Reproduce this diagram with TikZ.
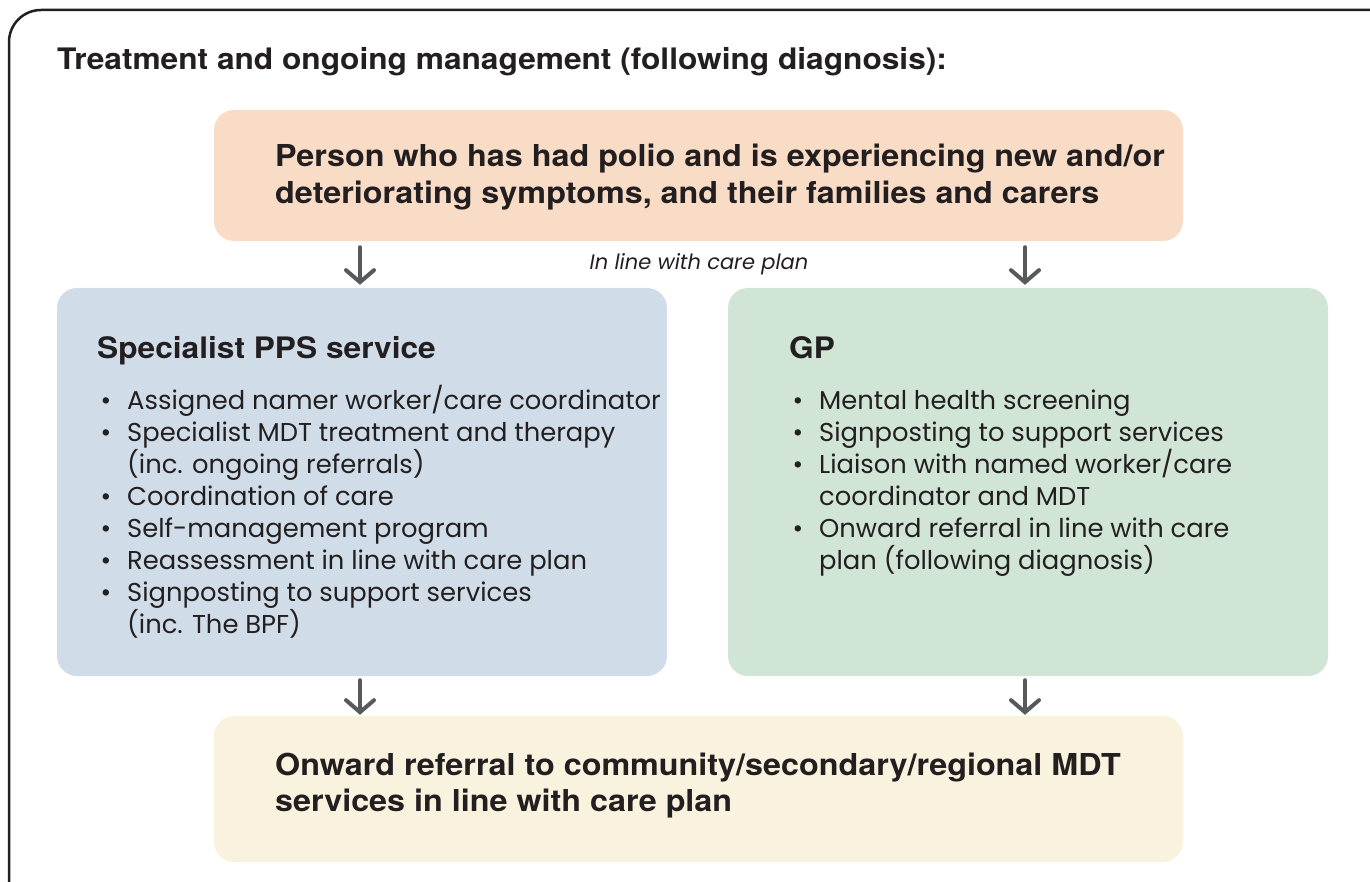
\documentclass[tikz,border=0pt]{standalone}
\usepackage{fontspec}
\setmainfont{Poppins}
\newfontfamily\headfont[FakeStretch=1.07]{TeX Gyre Heros}
\usetikzlibrary{arrows.meta}

\definecolor{ink}{RGB}{35,31,32}
\definecolor{arrgrey}{RGB}{88,89,91}
\definecolor{peach}{RGB}{248,220,198}
\definecolor{pplblue}{RGB}{208,221,233}
\definecolor{gpgreen}{RGB}{208,229,214}
\definecolor{cream}{RGB}{249,242,222}

\tikzset{
  panel/.style={rounded corners=20pt, inner sep=0pt},
  arr/.style={draw=arrgrey, line width=4pt, line cap=round,
    -{Straight Barb[length=12pt,width=28pt,line cap=round]}},
  head/.style={font=\headfont\bfseries\fontsize{29.6}{34}\selectfont, text=ink, anchor=base west, inner sep=0pt},
  big/.style={font=\headfont\bfseries\fontsize{30.2}{36}\selectfont, text=ink, anchor=base west, inner sep=0pt},
  body/.style={font=\fontsize{25.8}{32}\selectfont, text=ink, anchor=base west, inner sep=0pt},
}
\newcommand\bul{\llap{\textbullet\hspace{16pt}}}

\begin{document}
\begin{tikzpicture}[x=1pt,y=-1pt]
  \clip (0,0) rectangle (1370,882);
  \draw[ink, line width=2.5pt, rounded corners=32pt] (9,10) rectangle (1420,930);

  \node[head] (title) at (57,70) {Treatment and ongoing management (following diagnosis):};

  % Boxes
  \node[panel, fill=peach, minimum width=969pt, minimum height=131pt] (person) at (698.5,175.5) {};
  \node[panel, fill=pplblue, minimum width=610pt, minimum height=388pt] (pps) at (362,482) {};
  \node[panel, fill=gpgreen, minimum width=600pt, minimum height=388pt] (gp) at (1028,482) {};
  \node[panel, fill=cream, minimum width=969pt, minimum height=146pt] (onward) at (698.5,789) {};

  % Arrows
  \coordinate (ax1) at (360,0);
  \coordinate (ax2) at (1025,0);
  \draw[arr, shorten <=6pt, shorten >=3pt] (person.south -| ax1) -- (pps.north -| ax1);
  \draw[arr, shorten <=6pt, shorten >=3pt] (person.south -| ax2) -- (gp.north -| ax2);
  \draw[arr, shorten <=4pt, shorten >=1pt] (pps.south -| ax1) -- (onward.north -| ax1);
  \draw[arr, shorten <=4pt, shorten >=1pt] (gp.south -| ax2) -- (onward.north -| ax2);

  \node[font=\itshape\fontsize{21}{24}\selectfont, text=ink, anchor=base, inner sep=0pt] (plan) at (699,270) {In line with care plan};

  % Texts
  \foreach \txt [count=\i] in {Person who has had polio and is experiencing new and/or,
      {deteriorating symptoms, and their families and carers}}
    \node[big] (p\i) at (275,130+37*\i) {\txt};

  \node[head] (ppshead) at (97,359) {Specialist PPS service};
  \foreach \txt [count=\i] in {\bul Assigned namer worker/care coordinator,
      \bul Specialist MDT treatment and therapy, (inc. ongoing referrals),
      \bul Coordination of care, \bul Self-management program,
      \bul Reassessment in line with care plan,
      \bul Signposting to support services, (inc. The BPF)}
    \node[body] (l\i) at (127,377+32*\i) {\txt};

  \node[head] (gphead) at (789,359) {GP};
  \foreach \txt [count=\i] in {\bul Mental health screening,
      \bul Signposting to support services,
      \bul Liaison with named worker/care, coordinator and MDT,
      \bul Onward referral in line with care, plan (following diagnosis)}
    \node[body] (r\i) at (819,377+32*\i) {\txt};

  \foreach \txt [count=\i] in {Onward referral to community/secondary/regional MDT,
      services in line with care plan}
    \node[big] (o\i) at (275,739+36*\i) {\txt};
\end{tikzpicture}
\end{document}
